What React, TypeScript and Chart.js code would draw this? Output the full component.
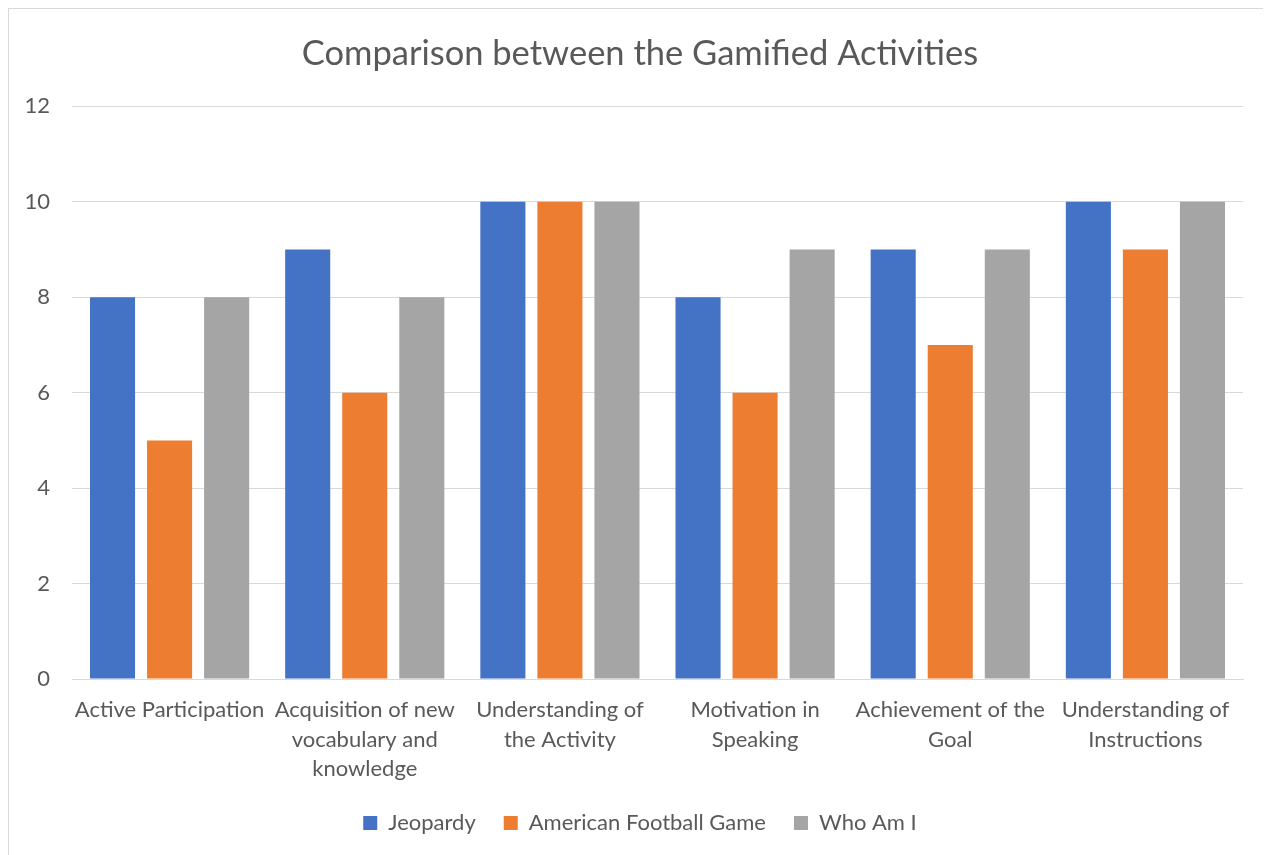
import React, { useEffect, useRef } from "react";
import { Chart, registerables } from "chart.js";

Chart.register(...registerables);

const categories: string[][] = [
  ["Active Participation"],
  ["Acquisition of new", "vocabulary and", "knowledge"],
  ["Understanding of", "the Activity"],
  ["Motivation in", "Speaking"],
  ["Achievement of the", "Goal"],
  ["Understanding of", "Instructions"],
];
const jeopardy = [8, 9, 10, 8, 9, 10];
const americanFootball = [5, 6, 10, 6, 7, 9];
const whoAmI = [8, 8, 10, 9, 9, 10];
const seriesNames = ["Jeopardy", "American Football Game", "Who Am I"];
const chartTitle = "Comparison between the Gamified Activities";

const FONT = "Lato, 'Open Sans', sans-serif";
const TEXT = "#595959";

export default function App() {
  const ref = useRef<HTMLCanvasElement | null>(null);
  useEffect(() => {
    if (!ref.current) return;
    const chart = new Chart(ref.current, {
      type: "bar",
      data: {
        labels: categories,
        datasets: [
          { label: seriesNames[0], data: jeopardy, backgroundColor: "#4472C4" },
          { label: seriesNames[1], data: americanFootball, backgroundColor: "#ED7D31" },
          { label: seriesNames[2], data: whoAmI, backgroundColor: "#A5A5A5" },
        ],
      },
      options: {
        animation: false,
        responsive: false,
        maintainAspectRatio: false,
        datasets: { bar: { categoryPercentage: 0.877, barPercentage: 0.79 } },
        layout: { padding: { left: 0, right: 0, top: 0, bottom: 11 } },
        plugins: {
          title: {
            display: true,
            text: chartTitle,
            color: TEXT,
            font: { family: FONT, size: 34.5, weight: "normal", lineHeight: 1.2 },
            padding: { top: 24, bottom: 32 },
          },
          legend: {
            position: "bottom",
            labels: {
              color: TEXT,
              font: { family: FONT, size: 22 },
              boxWidth: 14,
              boxHeight: 14,
              padding: 28,
            },
          },
          tooltip: { enabled: false },
        },
        scales: {
          x: {
            grid: { display: false, drawTicks: false },
            border: { display: true, color: "#D9D9D9" },
            ticks: {
              color: TEXT,
              font: { family: FONT, size: 22, lineHeight: 1.35 },
              maxRotation: 0,
              autoSkip: false,
              padding: 16,
            },
            afterFit: (s: any) => {
              s.height = 105;
            },
          },
          y: {
            min: 0,
            max: 12,
            ticks: {
              stepSize: 2,
              color: TEXT,
              font: { family: FONT, size: 22 },
              padding: 22,
            },
            grid: { color: "#D9D9D9", drawTicks: false },
            border: { display: false },
            afterFit: (s: any) => {
              s.width = 63;
            },
          },
          yRightSpacer: {
            type: "linear",
            position: "right",
            display: true,
            min: 0,
            max: 12,
            grid: { display: false, drawTicks: false },
            border: { display: false },
            ticks: { display: false },
            afterFit: (s: any) => {
              s.width = 28;
            },
          },
        },
      },
    });
    return () => chart.destroy();
  }, []);
  return (
    <div
      style={{
        width: 1262,
        height: 846,
        borderTop: "1px solid #D9D9D9",
        borderLeft: "1px solid #D9D9D9",
        background: "#fff",
      }}
    >
      <canvas ref={ref} width={1262} height={846} style={{ display: "block" }} />
    </div>
  );
}
